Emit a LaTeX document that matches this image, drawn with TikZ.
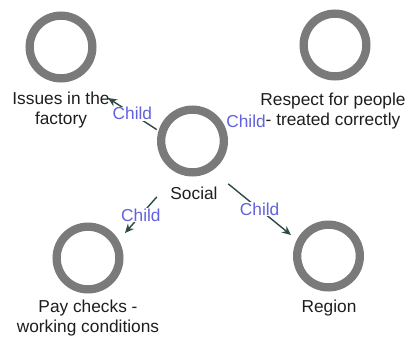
\documentclass[tikz,border=0pt]{standalone}
\usepackage{fontspec}
\setmainfont{Liberation Sans}
\usetikzlibrary{arrows.meta,fit}
\definecolor{ringgray}{RGB}{122,122,122}
\definecolor{childblue}{RGB}{98,98,222}
\definecolor{arrowteal}{RGB}{44,74,70}
\definecolor{txt}{RGB}{30,30,30}
\pgfdeclarelayer{fg}
\pgfsetlayers{main,fg}
\begin{document}
\begin{tikzpicture}[x=1pt,y=-1pt,
  concept/.style={circle,draw=ringgray,line width=8.3pt,minimum size=62.7pt,inner sep=0pt},
  lbl/.style={font=\fontsize{17.3}{20}\selectfont,text=txt,align=center,inner sep=0pt,anchor=north},
  childlbl/.style={font=\fontsize{17.3}{20}\selectfont,text=childblue,fill=white,inner sep=0.6pt},
  conn/.style={draw=arrowteal,line width=1.4pt,-{Stealth[length=9pt,width=8pt]}}]
\fill[white] (0,0) rectangle (407,338);
\useasboundingbox (0,0) rectangle (407,338);
% circles
\node[concept] (iss)  at (61,47) {};
\node[concept] (resp) at (335,45) {};
\node[concept] (soc)  at (192.5,141) {};
\node[concept] (pay)  at (88,258) {};
\node[concept] (reg)  at (328.5,256) {};
% labels
\begin{pgfonlayer}{fg}
\node[lbl] (isslbl)  at (61,92)  {Issues in the\\factory};
\node[lbl] (resplbl) at (333,93) {Respect for people\\- treated correctly};
\node[lbl] (soclbl)  at (194,187) {Social};
\node[lbl] (paylbl)  at (88,300) {Pay checks -\\working conditions};
\node[lbl] (reglbl)  at (329,300) {Region};
\end{pgfonlayer}
\node[fit=(soc)(soclbl),inner sep=0pt] (socbox) {};
% arrow tips
\coordinate (tipiss)  at (108,98);
\coordinate (tipresp) at (264,119);
\coordinate (tippay)  at (125,233);
\coordinate (tipreg)  at (291,235);
% connectors
\draw[conn] (socbox.147) -- node[childlbl] {Child} (tipiss);
\draw[conn] (socbox.39)  -- node[childlbl] {Child} (tipresp);
\draw[conn] (socbox.231) -- node[childlbl] {Child} (tippay);
\draw[conn] (socbox.319) -- node[childlbl] {Child} (tipreg);
\end{tikzpicture}
\end{document}
